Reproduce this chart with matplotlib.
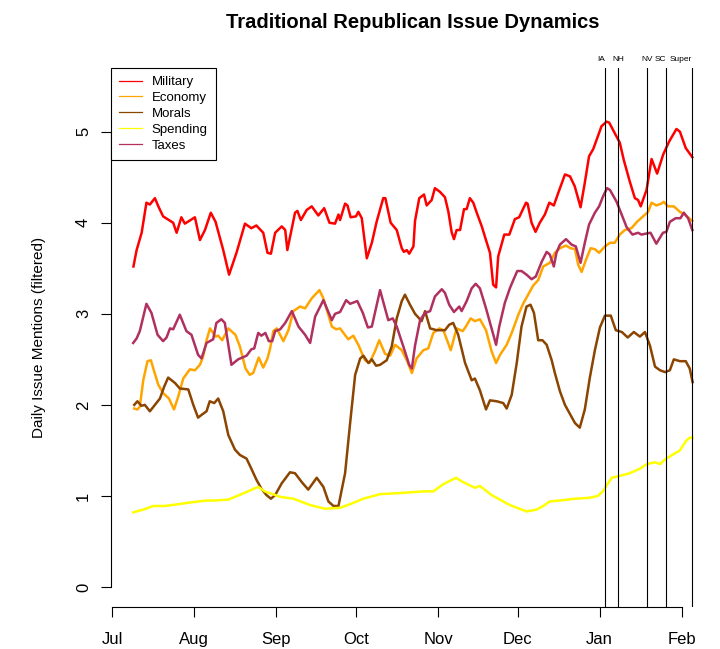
import matplotlib
matplotlib.use("Agg")
import matplotlib.pyplot as plt
import matplotlib.dates as mdates
from matplotlib.lines import Line2D
from datetime import date

plt.rcParams['font.family'] = ['Liberation Sans', 'DejaVu Sans']

START = date(2007, 7, 1)

# days since START and filtered daily mention counts, one pair per issue
military_day = [8, 9.2, 11.1, 12.9, 14.2, 16.1, 17.4, 19.2, 23.0, 24.3, 26.1, 27.4, 31.2, 33.1,
                35.0, 37.2, 39.0, 41.9, 44.1, 46.9, 50.1, 52.5, 54.4, 57.0, 58.6, 59.9, 61.5,
                64.0, 65.3, 66.1, 69.0, 69.9, 71.2, 73.4, 75.3, 77.8, 80.0, 82.0, 84.1, 85.4,
                86.0, 87.9, 88.8, 90.0, 92.0, 92.9, 94.2, 96.1, 98.0, 99.8, 102.3, 103.1,
                105.1, 107.4, 109.3, 110.1, 111.2, 112.1, 113.7, 114.3, 115.9, 117.7, 118.7,
                120.6, 121.8, 123.7, 125.6, 126.9, 128.1, 129.0, 130.0, 131.3, 132.8, 133.8,
                135.0, 136.3, 137.6, 139.5, 141.3, 142.6, 143.8, 144.9, 145.7, 148.0, 149.9,
                152.0, 153.6, 156.2, 156.8, 158.3, 159.8, 161.4, 163.3, 165.0, 166.7, 168.4,
                170.9, 172.8, 174.6, 176.8, 178.4, 180.0, 181.6, 184.7, 186.6, 187.6, 189.4,
                191.6, 193.1, 195.4, 197.3, 198.5, 199.5, 201.7, 203.6, 205.7, 208.0, 210.2,
                213.0, 214.3, 216.5, 219.0]
military = [3.52, 3.70, 3.89, 4.22, 4.20, 4.27, 4.18, 4.07, 4.00, 3.89, 4.06, 3.99, 4.06, 3.81,
            3.92, 4.11, 4.01, 3.70, 3.43, 3.67, 3.99, 3.94, 3.97, 3.89, 3.67, 3.66, 3.89,
            3.96, 3.92, 3.70, 4.11, 4.13, 4.03, 4.14, 4.18, 4.08, 4.16, 4.00, 3.99, 4.09,
            4.03, 4.21, 4.19, 4.06, 4.07, 4.12, 4.05, 3.61, 3.78, 4.01, 4.27, 4.27,
            4.00, 3.92, 3.72, 3.68, 3.70, 3.66, 3.74, 4.02, 4.27, 4.31, 4.19,
            4.25, 4.38, 4.34, 4.28, 4.12, 3.90, 3.82, 3.92, 3.92, 4.15, 4.15,
            4.27, 4.22, 4.11, 3.96, 3.79, 3.67, 3.32, 3.29, 3.63, 3.87, 3.87,
            4.04, 4.06, 4.22, 4.21, 4.00, 3.90, 4.00, 4.09, 4.22, 4.19, 4.33,
            4.53, 4.51, 4.40, 4.17, 4.44, 4.73, 4.81, 5.06, 5.11, 5.10, 5.00,
            4.88, 4.69, 4.45, 4.27, 4.25, 4.18, 4.36, 4.70, 4.54, 4.75, 4.89,
            5.03, 5.00, 4.82, 4.72]

economy_day = [8.3, 9.5, 10.4, 11.7, 13.3, 14.6, 15.8, 17.4, 19.2, 21.4, 23.3, 24.9, 26.8, 29.3,
               31.2, 33.1, 34.3, 35.6, 36.9, 39.0, 40.0, 41.5, 43.8, 46.5, 48.2, 50.3, 51.9,
               53.2, 55.3, 57.0, 58.6, 59.6, 60.8, 62.1, 64.6, 66.5, 68.4, 70.9, 72.8, 75.3,
               78.2, 79.7, 82.9, 84.5, 86.0, 89.1, 91.0, 92.9, 95.4, 97.1, 99.2, 100.8, 103.0,
               104.9, 106.8, 109.3, 111.2, 113.1, 114.9, 117.4, 119.3, 121.2, 123.5, 125.0,
               127.8, 130.0, 132.3, 133.5, 135.3, 136.9, 138.8, 141.1, 143.2, 144.9, 146.4,
               148.9, 150.8, 153.3, 155.1, 157.0, 158.9, 160.8, 162.7, 165.2, 167.1, 169.0,
               171.3, 173.0, 174.7, 175.9, 177.2, 178.8, 180.6, 182.2, 183.8, 186.0, 187.9,
               189.7, 191.6, 193.5, 196.0, 198.1, 200.4, 202.3, 203.6, 205.4, 207.3, 208.2,
               209.8, 212.0, 214.3, 216.1, 219.0]
economy = [1.96, 1.95, 1.98, 2.27, 2.48, 2.49, 2.37, 2.22, 2.13, 2.07, 1.95, 2.09, 2.29, 2.39,
           2.38, 2.44, 2.53, 2.71, 2.84, 2.75, 2.76, 2.71, 2.84, 2.77, 2.64, 2.40, 2.33,
           2.35, 2.52, 2.41, 2.51, 2.62, 2.81, 2.84, 2.70, 2.82, 3.03, 3.08, 3.06, 3.17,
           3.26, 3.17, 2.86, 2.83, 2.84, 2.72, 2.76, 2.66, 2.49, 2.46, 2.59, 2.71, 2.56,
           2.54, 2.66, 2.60, 2.49, 2.35, 2.51, 2.60, 2.62, 2.79, 2.84, 2.82,
           2.60, 2.84, 2.81, 2.86, 2.95, 2.92, 2.94, 2.82, 2.59, 2.46, 2.55,
           2.66, 2.79, 2.99, 3.11, 3.21, 3.31, 3.37, 3.52, 3.56, 3.67, 3.72,
           3.75, 3.72, 3.71, 3.54, 3.46, 3.59, 3.72, 3.71, 3.67, 3.74, 3.78,
           3.78, 3.87, 3.92, 3.94, 4.01, 4.07, 4.12, 4.22, 4.19, 4.21, 4.23,
           4.18, 4.18, 4.12, 4.09, 4.02]

morals_day = [8.3, 9.5, 11.0, 12.3, 14.2, 16.1, 18.0, 19.6, 21.1, 23.7, 25.5, 28.7, 30.6, 32.4,
              33.7, 35.6, 36.8, 38.5, 40.0, 41.9, 43.8, 46.3, 48.2, 50.7, 52.5, 54.4, 56.3,
              58.2, 59.9, 61.5, 64.0, 67.1, 69.0, 71.6, 74.0, 77.2, 79.7, 81.6, 83.5, 85.4,
              87.9, 89.8, 91.7, 93.6, 94.8, 96.7, 98.0, 99.6, 101.1, 103.6, 105.5, 107.4,
              109.3, 110.5, 112.4, 114.3, 116.8, 118.1, 120.0, 122.5, 125.6, 127.2, 128.7,
              130.6, 133.2, 135.7, 136.9, 138.8, 141.1, 142.6, 145.1, 147.6, 148.9, 150.8,
              152.7, 154.5, 156.4, 157.9, 159.2, 160.8, 162.4, 164.0, 165.9, 167.1, 169.0,
              170.9, 172.8, 174.7, 176.5, 178.4, 180.3, 182.2, 184.1, 186.0, 188.2, 190.1,
              192.4, 194.6, 196.9, 199.2, 201.1, 203.0, 204.9, 206.8, 208.7, 210.5, 212.0,
              214.3, 216.5, 218.0, 219.1]
morals = [2.00, 2.04, 1.99, 2.00, 1.93, 2.00, 2.07, 2.20, 2.30, 2.24, 2.18, 2.17, 2.00, 1.86,
          1.89, 1.93, 2.04, 2.02, 2.07, 1.93, 1.67, 1.51, 1.45, 1.41, 1.30, 1.18, 1.08,
          1.01, 0.97, 1.01, 1.14, 1.26, 1.25, 1.15, 1.07, 1.20, 1.10, 0.94, 0.89, 0.89,
          1.25, 1.80, 2.33, 2.51, 2.54, 2.46, 2.50, 2.43, 2.44, 2.49, 2.64, 2.95,
          3.14, 3.21, 3.10, 3.00, 2.92, 3.03, 2.84, 2.82, 2.82, 2.88, 2.90,
          2.77, 2.46, 2.27, 2.29, 2.16, 1.95, 2.05, 2.04, 2.02, 1.96, 2.11,
          2.46, 2.86, 3.08, 3.10, 3.01, 2.71, 2.71, 2.66, 2.49, 2.35, 2.15,
          2.00, 1.90, 1.80, 1.75, 1.95, 2.30, 2.60, 2.85, 2.98, 2.98, 2.82,
          2.80, 2.74, 2.80, 2.75, 2.80, 2.65, 2.42, 2.38, 2.36, 2.38, 2.50,
          2.48, 2.48, 2.40, 2.25]

spending_day = [7.9, 11.7, 15.5, 19.9, 24.9, 29.9, 35.6, 38.7, 43.8, 48.8, 55.1, 57.6, 59.6,
                63.4, 68.4, 74.7, 80.3, 86.0, 89.8, 94.8, 101.1, 107.4, 112.4, 117.4, 121.2,
                125.0, 129.8, 131.9, 136.9, 138.8, 143.2, 150.1, 156.4, 160.2, 162.7, 165.2,
                169.0, 174.7, 180.3, 183.3, 185.2, 186.7, 188.6, 191.6, 195.4, 199.2, 201.8,
                204.9, 206.8, 208.7, 211.4, 214.3, 216.5, 218.0, 219.1]
spending = [0.82, 0.85, 0.89, 0.89, 0.91, 0.93, 0.95, 0.95, 0.96, 1.02, 1.10, 1.05, 1.03,
            0.99, 0.97, 0.90, 0.86, 0.87, 0.91, 0.97, 1.02, 1.03, 1.04, 1.05, 1.05,
            1.13, 1.20, 1.16, 1.09, 1.11, 1.01, 0.90, 0.83, 0.85, 0.89, 0.94,
            0.95, 0.97, 0.98, 1.00, 1.05, 1.12, 1.20, 1.22, 1.25, 1.30, 1.35,
            1.37, 1.35, 1.40, 1.45, 1.50, 1.60, 1.64, 1.64]

taxes_day = [7.9, 9.2, 10.4, 12.9, 14.8, 17.1, 19.2, 20.5, 21.8, 23.0, 25.5, 28.0, 29.9, 32.4,
             33.7, 35.6, 38.1, 39.3, 41.2, 42.5, 45.0, 47.5, 50.7, 52.5, 53.6, 55.1, 56.3,
             57.8, 59.1, 60.4, 61.5, 63.4, 65.3, 67.8, 70.3, 72.8, 74.7, 76.6, 79.7, 82.9,
             84.1, 86.0, 88.3, 89.8, 92.5, 94.6, 96.5, 98.0, 101.1, 104.2, 105.9, 107.4,
             109.9, 112.1, 113.1, 114.3, 116.2, 118.1, 120.0, 121.8, 124.4, 125.6, 127.2,
             129.0, 131.0, 131.9, 133.8, 135.7, 137.2, 138.8, 141.1, 143.2, 144.9, 146.1,
             148.2, 150.1, 151.4, 152.9, 154.5, 156.4, 158.3, 159.9, 162.1, 164.0, 165.2,
             166.7, 167.7, 169.0, 171.3, 173.4, 175.0, 176.8, 178.4, 180.0, 182.2, 183.8,
             185.3, 186.8, 187.9, 190.4, 191.9, 194.2, 196.4, 198.5, 199.8, 201.4, 203.2,
             205.4, 207.9, 209.2, 210.5, 212.7, 214.5, 215.8, 217.4, 219.0]
taxes = [2.68, 2.73, 2.81, 3.11, 3.01, 2.77, 2.70, 2.74, 2.84, 2.83, 2.99, 2.81, 2.77, 2.55,
         2.51, 2.68, 2.72, 2.90, 2.94, 2.90, 2.44, 2.50, 2.54, 2.61, 2.62, 2.79, 2.76,
         2.79, 2.70, 2.70, 2.81, 2.83, 2.90, 3.03, 2.86, 2.77, 2.68, 2.97, 3.15, 2.93,
         3.00, 3.02, 3.15, 3.11, 3.14, 3.01, 2.85, 2.86, 3.26, 2.93, 2.95, 2.86,
         2.64, 2.44, 2.40, 2.65, 2.93, 3.01, 3.03, 3.19, 3.27, 3.23, 3.10,
         3.02, 3.08, 3.03, 3.14, 3.28, 3.33, 3.28, 3.06, 2.84, 2.66, 2.86,
         3.12, 3.28, 3.37, 3.47, 3.47, 3.43, 3.38, 3.41, 3.57, 3.68, 3.65,
         3.52, 3.67, 3.76, 3.82, 3.76, 3.74, 3.56, 3.78, 3.98, 4.11, 4.18,
         4.29, 4.38, 4.36, 4.23, 4.12, 3.95, 3.87, 3.89, 3.87, 3.88, 3.89,
         3.77, 3.89, 3.90, 4.01, 4.05, 4.05, 4.11, 4.05, 3.92]

issues = ['Military', 'Economy', 'Morals', 'Spending', 'Taxes']
issue_colors = ['#FF0000', '#FFA500', '#8B4500', '#FFFF00', '#B03060']

events = ['IA', 'NH', 'NV', 'SC', 'Super']
event_dates = [date(2008, 1, 3), date(2008, 1, 8), date(2008, 1, 19),
               date(2008, 1, 26), date(2008, 2, 5)]
# crowded labels sit to the left of their line
event_align = ['right', 'center', 'center', 'right', 'right']

months = [date(2007, m, 1) for m in range(7, 13)] + [date(2008, 1, 1), date(2008, 2, 1)]


def to_num(days):
    base = mdates.date2num(START)
    return [base + d for d in days]


series = [(military_day, military), (economy_day, economy), (morals_day, morals),
          (spending_day, spending), (taxes_day, taxes)]

fig = plt.figure(figsize=(7.2, 6.49), dpi=100)
ax = fig.add_axes([110.8 / 720, 42 / 649, 604.2 / 720, 539 / 649])

for (days, vals), col in zip(series, issue_colors):
    ax.plot(to_num(days), vals, color=col, lw=1.8, solid_joinstyle='round')

# R style axis extents: 4% padding around the data range
all_days = [d for days, _ in series for d in days]
lo, hi = min(all_days), max(all_days)
pad = 0.04 * (hi - lo)
base = mdates.date2num(START)
ax.set_xlim(base + lo - pad, base + hi + pad)
ytop = 5.48
ax.set_ylim(-0.04 * ytop, ytop * 1.04)

for ev, d, ha in zip(events, event_dates, event_align):
    xn = mdates.date2num(d)
    ax.axvline(xn, color='black', lw=0.8)
    ax.text(xn, 1.015, ev, transform=ax.get_xaxis_transform(),
            ha=ha, va='center', fontsize=6)

for s in ['top', 'right']:
    ax.spines[s].set_visible(False)
ax.spines['left'].set_bounds(0, 5)
ax.spines['bottom'].set_bounds(mdates.date2num(months[0]), mdates.date2num(months[-1]))
for s in ['left', 'bottom']:
    ax.spines[s].set_linewidth(0.8)

ax.set_xticks([mdates.date2num(m) for m in months])
ax.xaxis.set_major_formatter(mdates.DateFormatter('%b'))
ax.set_yticks(range(6))
ax.tick_params(direction='out', length=7.2, width=0.8, labelsize=12)
ax.tick_params(axis='x', pad=11)
ax.tick_params(axis='y', pad=7)
for lbl in ax.get_yticklabels():
    lbl.set_rotation(90)
    lbl.set_va('center')

ax.set_ylabel('Daily Issue Mentions (filtered)', fontsize=11, labelpad=22)
ax.set_title('Traditional Republican Issue Dynamics', fontsize=14.5, fontweight='bold', pad=29)

handles = [Line2D([0], [0], color=c, lw=0.9) for c in issue_colors]
leg = ax.legend(handles, issues, loc='upper left', bbox_to_anchor=(0, 1), borderaxespad=0,
                fontsize=9.5, fancybox=False, framealpha=1, edgecolor='black',
                handlelength=1.8, handletextpad=0.7, labelspacing=0.28, borderpad=0.6)
leg.get_frame().set_linewidth(0.8)

fig.savefig('out.png', dpi=100)
